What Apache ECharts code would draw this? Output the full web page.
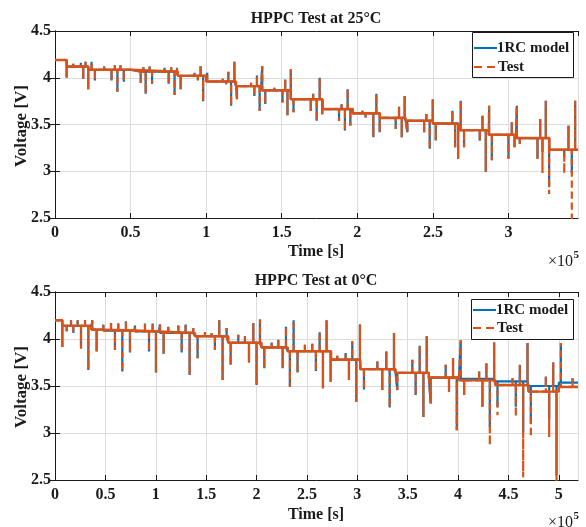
<!DOCTYPE html>
<html>
<head>
<meta charset="utf-8">
<script src="https://cdn.jsdelivr.net/npm/echarts@6/dist/echarts.min.js"></script>
<style>html,body{margin:0;padding:0;background:#fff}#c{width:586px;height:527px}</style>
</head>
<body>
<div id="c"></div>
<script>
// ---------- DATA (time in units of 1e5 s, voltage in V) ----------
const xTicks = ['0','0.5','1','1.5','2','2.5','3','3.5','4','4.5','5'];
const yTicks = [2.5, 3, 3.5, 4, 4.5];
const seriesNames = ['1RC model', 'Test'];
const titles = ['HPPC Test at 25\u00B0C', 'HPPC Test at 0\u00B0C'];

// 25 °C: rest-voltage step levels [t, V]
const steps25 = [
  [0, 4.19], [0.077, 4.12], [0.22, 4.085], [0.505, 4.065], [0.813, 4.02],
  [1.0, 3.96], [1.198, 3.91], [1.363, 3.865], [1.56, 3.77], [1.77, 3.665],
  [1.97, 3.62], [2.15, 3.57], [2.32, 3.54], [2.50, 3.51], [2.67, 3.44],
  [2.87, 3.39], [3.05, 3.355], [3.27, 3.23]
];
// 25 °C: pulse peaks [t, model V, test V (if different)]
const pulses25 = [
  [0.077, 4.0], [0.121, 4.15], [0.149, 4.135], [0.171, 4.16], [0.187, 3.99], [0.202, 4.17],
  [0.220, 3.876], [0.242, 4.17], [0.264, 3.97], [0.325, 4.124], [0.374, 3.97], [0.396, 4.135],
  [0.413, 3.85], [0.433, 4.135], [0.455, 3.957], [0.51, 4.10], [0.567, 3.947], [0.585, 4.113],
  [0.60, 3.83], [0.626, 4.12], [0.642, 3.936], [0.725, 4.106], [0.752, 3.936], [0.769, 4.113],
  [0.791, 3.816], [0.807, 4.106], [0.831, 3.876], [0.923, 4.053], [0.945, 3.97], [0.963, 4.124],
  [0.98, 3.75], [1.007, 4.053], [1.033, 3.965], [1.11, 3.99], [1.132, 3.93], [1.147, 4.064],
  [1.165, 3.70], [1.187, 4.17], [1.204, 3.77], [1.297, 3.947], [1.319, 3.805], [1.336, 4.025],
  [1.354, 3.645], [1.371, 4.124], [1.391, 3.72], [1.451, 3.894], [1.505, 3.734], [1.523, 3.982],
  [1.538, 3.60], [1.56, 4.09], [1.578, 3.63], [1.692, 3.645], [1.708, 3.83], [1.731, 3.54],
  [1.751, 4.0], [1.768, 3.61], [1.879, 3.54], [1.896, 3.717], [1.918, 3.435], [1.936, 3.876],
  [1.954, 3.488], [2.033, 3.647], [2.055, 3.576], [2.106, 3.364], [2.126, 3.83], [2.148, 3.417],
  [2.254, 3.452], [2.276, 3.689], [2.294, 3.364], [2.313, 3.806], [2.331, 3.417], [2.442, 3.417],
  [2.457, 3.611], [2.479, 3.24], [2.499, 3.77], [2.519, 3.329], [2.629, 3.647], [2.647, 3.258],
  [2.667, 3.134], [2.684, 3.753], [2.706, 3.258], [2.81, 3.329], [2.828, 3.594], [2.85, 2.993],
  [2.872, 3.70], [2.89, 3.117], [3.0, 3.134], [3.022, 3.523], [3.04, 3.258], [3.055, 3.70],
  [3.075, 3.293], [3.192, 3.134], [3.21, 3.558], [3.225, 3.205, 2.98], [3.247, 3.753],
  [3.269, 2.834, 2.756], [3.369, 3.152, 2.975], [3.397, 3.488], [3.419, 2.982, 2.45], [3.441, 3.753]
];

// 0 °C: rest-voltage step levels [t, V]
const steps0Model = [
  [0, 4.2], [0.073, 4.14], [0.36, 4.10], [0.48, 4.09], [0.79, 4.08], [1.03, 4.065],
  [1.39, 4.03], [1.72, 3.96], [2.05, 3.91], [2.31, 3.87], [2.74, 3.78], [3.03, 3.68],
  [3.38, 3.64], [3.71, 3.59], [4.01, 3.575], [4.37, 3.55], [4.70, 3.50], [5.0, 3.535]
];
const steps0Test = [
  [0, 4.2], [0.073, 4.14], [0.36, 4.10], [0.48, 4.09], [0.79, 4.08], [1.03, 4.065],
  [1.39, 4.03], [1.72, 3.96], [2.05, 3.91], [2.31, 3.87], [2.74, 3.78], [3.03, 3.68],
  [3.38, 3.64], [3.71, 3.59], [4.01, 3.56], [4.37, 3.51], [4.70, 3.44], [5.0, 3.49]
];
// 0 °C: pulse peaks [t, model V, test V (if different)]
const pulses0 = [
  [0.073, 3.914], [0.116, 4.08], [0.159, 4.2], [0.182, 4.064], [0.225, 4.2], [0.258, 3.90],
  [0.298, 4.2], [0.331, 3.67], [0.37, 4.2], [0.413, 3.868], [0.48, 4.154], [0.556, 4.17],
  [0.595, 3.886], [0.628, 4.164], [0.668, 3.654], [0.704, 4.19], [0.744, 3.857], [0.794, 4.143],
  [0.893, 4.164], [0.933, 3.868], [0.969, 4.164], [1.002, 3.643], [1.042, 4.154], [1.078, 3.843],
  [1.124, 4.129], [1.224, 4.143], [1.257, 3.857], [1.296, 4.154], [1.336, 3.618], [1.372, 4.118],
  [1.415, 3.796], [1.488, 4.071], [1.554, 4.064], [1.587, 3.886], [1.63, 4.2], [1.663, 3.564],
  [1.703, 4.118], [1.743, 3.725], [1.819, 4.046], [1.885, 4.029], [1.925, 3.75], [1.968, 4.171],
  [2.0, 3.51], [2.034, 4.207], [2.077, 3.689], [2.15, 3.964], [2.216, 3.993], [2.259, 3.689],
  [2.292, 4.129], [2.331, 3.493], [2.368, 4.2], [2.407, 3.643], [2.48, 3.94], [2.553, 3.95],
  [2.589, 3.66], [2.626, 4.071], [2.659, 3.475], [2.695, 4.2], [2.735, 3.546], [2.801, 3.821],
  [2.884, 3.85], [2.917, 3.564], [2.95, 3.975], [2.99, 3.332], [3.026, 4.154], [3.066, 3.464],
  [3.199, 3.761], [3.248, 3.457], [3.288, 3.868], [3.321, 3.271], [3.364, 4.064], [3.397, 3.457],
  [3.546, 3.779], [3.579, 3.404], [3.619, 3.929], [3.656, 3.171], [3.689, 4.029], [3.728, 3.314],
  [3.877, 3.725], [3.91, 3.439], [3.95, 3.796], [3.987, 3.029], [4.026, 3.986], [4.06, 3.404],
  [4.209, 3.654], [4.242, 3.279], [4.281, 3.743], [4.315, 3.064, 2.868], [4.358, 3.964],
  [4.391, 3.279, 3.189], [4.54, 3.582], [4.573, 3.279, 3.171], [4.613, 3.725], [4.646, 3.011, 2.529],
  [4.689, 3.957], [4.722, 3.10, 2.957], [4.871, 3.60], [4.904, 3.154, 2.957], [4.944, 3.75],
  [4.977, 2.55, 2.45], [5.02, 3.957], [5.136, 3.582]
];

const xMax = [3.46, 5.19];

// ---------- build polylines from read levels and pulse peaks ----------
function buildLine(steps, pulses, col, tEnd) {
  const ev = [];
  steps.forEach(s => ev.push({ t: s[0], k: 0, v: s[1] }));
  pulses.forEach(p => ev.push({ t: p[0], k: 1, v: p[col] !== undefined ? p[col] : p[1] }));
  ev.sort((a, b) => a.t - b.t || a.k - b.k);
  const pts = [];
  let lvl = null;
  ev.forEach(e => {
    if (e.k === 0) { if (lvl !== null) pts.push([e.t, lvl]); pts.push([e.t, e.v]); lvl = e.v; }
    else { pts.push([e.t, lvl], [e.t, e.v], [e.t, lvl]); }
  });
  pts.push([tEnd, lvl]);
  return pts;
}

const data = [
  [buildLine(steps25, pulses25, 1, xMax[0]), buildLine(steps25, pulses25, 2, xMax[0]), buildLine(steps25, [], 2, xMax[0])],
  [buildLine(steps0Model, pulses0, 1, xMax[1]), buildLine(steps0Test, pulses0, 2, xMax[1]), buildLine(steps0Test, [], 2, xMax[1])]
];

// ---------- chart ----------
const FONT = "'Liberation Serif', 'Times New Roman', serif";
const INK = '#1a1a1a';
const BLUE = '#0072BD', ORANGE = '#D95319';
const grids = [
  { left: 55, right: 8, top: 31, height: 187 },
  { left: 55, right: 8, top: 292, height: 188 }
];
const legendBoxes = [
  { x: 472, y: 32, w: 101, h: 45, r1: 48, r2: 67 },
  { x: 471, y: 299, w: 102, h: 40, r1: 310, r2: 328 }
];
const titleY = [19, 281], voltY = [126, 387], timeY = [252, 515], expY = [262, 523];

const xAxis = [], yAxis = [], series = [], graphic = [];
grids.forEach((g, i) => {
  const lbl = { fontFamily: FONT, fontSize: 16, fontWeight: 'bold', color: INK };
  xAxis.push({
    gridIndex: i, type: 'value', min: 0, max: xMax[i], interval: 0.5,
    axisLine: { show: true, onZero: false, lineStyle: { color: INK, width: 1 } },
    axisTick: { show: true, inside: true, length: 5, lineStyle: { color: INK } },
    axisLabel: Object.assign({ margin: 7, showMaxLabel: false,
      formatter: v => { const s = xTicks.indexOf(String(v)); return s >= 0 ? xTicks[s] : ''; } }, lbl),
    splitLine: { show: true, lineStyle: { color: '#dcdcdc', width: 1 } }
  });
  xAxis.push({
    gridIndex: i, type: 'value', min: 0, max: xMax[i], interval: 0.5, position: 'top',
    axisLine: { show: true, onZero: false, lineStyle: { color: INK, width: 1 } },
    axisTick: { show: true, inside: true, length: 5, lineStyle: { color: INK } },
    axisLabel: { show: false }, splitLine: { show: false }
  });
  yAxis.push({
    gridIndex: i, type: 'value', min: yTicks[0], max: yTicks[yTicks.length - 1], interval: 0.5,
    axisLine: { show: true, lineStyle: { color: INK, width: 1 } },
    axisTick: { show: true, inside: true, length: 5, lineStyle: { color: INK } },
    axisLabel: Object.assign({ margin: 4 }, lbl),
    splitLine: { show: true, lineStyle: { color: '#dcdcdc', width: 1 } }
  });
  yAxis.push({
    gridIndex: i, type: 'value', min: yTicks[0], max: yTicks[yTicks.length - 1], interval: 0.5, position: 'right',
    axisLine: { show: true, lineStyle: { color: INK, width: 1 } },
    axisTick: { show: true, inside: true, length: 5, lineStyle: { color: INK } },
    axisLabel: { show: false }, splitLine: { show: false }
  });
  series.push({
    name: seriesNames[0], type: 'line', xAxisIndex: 2 * i, yAxisIndex: 2 * i,
    data: data[i][0], symbol: 'none', animation: false, clip: true,
    lineStyle: { color: BLUE, width: 2.2 }, itemStyle: { color: BLUE }
  });
  series.push({
    name: seriesNames[1], type: 'line', xAxisIndex: 2 * i, yAxisIndex: 2 * i,
    data: data[i][1], symbol: 'none', animation: false, clip: true,
    lineStyle: { color: ORANGE, width: 2.2, type: [7, 4] }, itemStyle: { color: ORANGE }
  });
  // densely sampled rest segments of the test trace render as a continuous stroke
  series.push({
    name: seriesNames[1] + ' rest', type: 'line', xAxisIndex: 2 * i, yAxisIndex: 2 * i,
    data: data[i][2], symbol: 'none', animation: false, clip: true, silent: true,
    lineStyle: { color: ORANGE, width: 2.4 }, itemStyle: { color: ORANGE }
  });

  // legend box
  const L = legendBoxes[i];
  graphic.push({ type: 'rect', z: 100, shape: { x: L.x + 0.5, y: L.y + 0.5, width: L.w, height: L.h },
    style: { fill: '#fff', stroke: INK, lineWidth: 1 } });
  graphic.push({ type: 'line', z: 101, shape: { x1: L.x + 2, y1: L.r1, x2: L.x + 25, y2: L.r1 },
    style: { stroke: BLUE, lineWidth: 2 } });
  graphic.push({ type: 'line', z: 101, shape: { x1: L.x + 2, y1: L.r2, x2: L.x + 25, y2: L.r2 },
    style: { stroke: ORANGE, lineWidth: 2, lineDash: [8, 5] } });
  graphic.push({ type: 'text', z: 101, x: L.x + 25, y: L.r1,
    style: { text: seriesNames[0], font: "bold 15px " + FONT, fill: INK, textAlign: 'left', textVerticalAlign: 'middle' } });
  graphic.push({ type: 'text', z: 101, x: L.x + 26, y: L.r2,
    style: { text: seriesNames[1], font: "bold 15px " + FONT, fill: INK, textAlign: 'left', textVerticalAlign: 'middle' } });

  graphic.push({ type: 'text', x: 316, y: titleY[i],
    style: { text: titles[i], font: "bold 16px " + FONT, fill: INK, textAlign: 'center', textVerticalAlign: 'middle' } });
  graphic.push({ type: 'text', x: 22, y: voltY[i], rotation: Math.PI / 2,
    style: { text: 'Voltage [V]', font: "bold 17px " + FONT, fill: INK, textAlign: 'center', textVerticalAlign: 'middle' } });
  graphic.push({ type: 'text', x: 316, y: timeY[i],
    style: { text: 'Time [s]', font: "bold 16px " + FONT, fill: INK, textAlign: 'center', textVerticalAlign: 'middle' } });
  graphic.push({ type: 'text', x: 573, y: expY[i],
    style: { text: '\u00D710', font: "16px " + FONT, fill: INK, textAlign: 'right', textVerticalAlign: 'middle' } });
  graphic.push({ type: 'text', x: 573.5, y: expY[i] - 7,
    style: { text: '5', font: "bold 11px " + FONT, fill: INK, textAlign: 'left', textVerticalAlign: 'middle' } });
});

const chart = echarts.init(document.getElementById('c'), null, { renderer: 'canvas' });
chart.setOption({
  animation: false, backgroundColor: '#fff',
  grid: grids, xAxis, yAxis, series, graphic
});
</script>
</body>
</html>
